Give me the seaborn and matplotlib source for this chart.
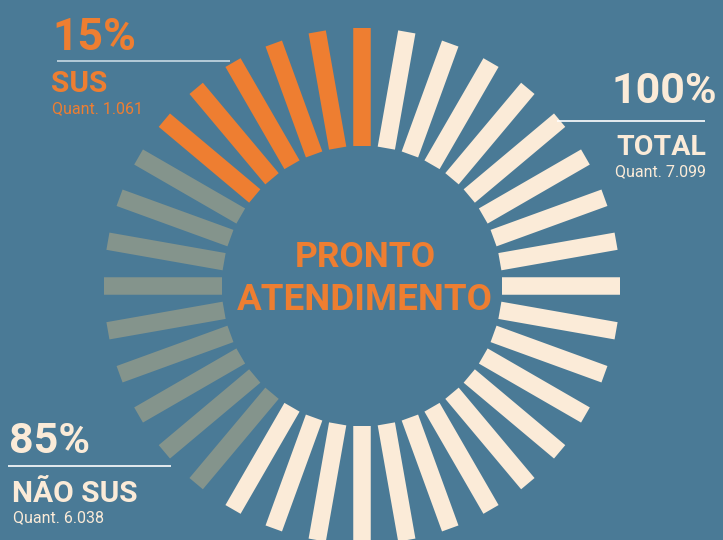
import numpy as np
import pandas as pd
import matplotlib
matplotlib.use("Agg")
import matplotlib.pyplot as plt
import seaborn as sns

# grupos de barras, contados a partir do topo no sentido anti-horario
grupos = ["SUS", "NÃO SUS", "RESTO"]
barras_por_grupo = [6, 9, 21]
cores = {"SUS": "#ee7e31", "NÃO SUS": "#84948c", "RESTO": "#fbebd8"}

percentuais = ["15%", "85%", "100%"]
nomes = ["SUS", "NÃO SUS", "TOTAL"]
quantidades = ["Quant. 1.061", "Quant. 6.038", "Quant. 7.099"]
titulo = ["PRONTO", "ATENDIMENTO"]

BG = "#4a7a96"
ORANGE = "#ee7e31"
CREAM = "#fbebd8"

sns.set_style("white")
plt.rcParams["font.family"] = ["Roboto", "DejaVu Sans"]
plt.rcParams["lines.solid_capstyle"] = "butt"

# geometria em pixels
cx, cy = 362, 286
r_in, r_out = 140, 258
n_total = sum(barras_por_grupo)
passo = 360 / n_total

rows = []
k = 0
for g, n in zip(grupos, barras_por_grupo):
    for i in range(n):
        th = np.deg2rad(-k * passo)
        for r in (r_in, r_out):
            rows.append({"bar": k, "grupo": g,
                         "x": cx + r * np.sin(th), "y": cy - r * np.cos(th)})
        k += 1
df = pd.DataFrame(rows)

fig = plt.figure(figsize=(7.23, 5.40), dpi=100, facecolor=BG)
ax = fig.add_axes([0, 0, 1, 1])
ax.set_facecolor(BG)

sns.lineplot(data=df, x="x", y="y", units="bar", hue="grupo", palette=cores,
             estimator=None, sort=False, linewidth=12.6, legend=False, ax=ax)

ax.set_xlim(0, 723)
ax.set_ylim(540, 0)
ax.set_axis_off()

# titulo central
ax.text(365, 267, titulo[0], color=ORANGE, fontsize=25.5, fontweight="bold",
        ha="center", va="baseline")
ax.text(365, 310, titulo[1], color=ORANGE, fontsize=26.5, fontweight="bold",
        ha="center", va="baseline")

# SUS (canto superior esquerdo)
ax.text(52, 50, percentuais[0], color=ORANGE, fontsize=32, fontweight="bold", va="baseline")
ax.plot([57, 230], [61, 61], color="#c7d9e3", lw=1.2)
ax.text(51, 92, nomes[0], color=ORANGE, fontsize=21.5, fontweight="bold", va="baseline")
ax.text(52, 113.5, quantidades[0], color=ORANGE, fontsize=11.5, va="baseline")

# TOTAL (direita)
ax.text(717, 103, percentuais[2], color=CREAM, fontsize=31, fontweight="bold",
        ha="right", va="baseline")
ax.plot([557, 705], [121, 121], color="white", lw=1.2)
ax.text(706, 155, nomes[2], color=CREAM, fontsize=20.5, fontweight="bold",
        ha="right", va="baseline")
ax.text(706, 176, quantidades[2], color=CREAM, fontsize=11.5, ha="right", va="baseline")

# NAO SUS (canto inferior esquerdo)
ax.text(9, 453, percentuais[1], color=CREAM, fontsize=31, fontweight="bold", va="baseline")
ax.plot([8, 171], [466, 466], color="white", lw=1.2)
ax.text(12, 502, nomes[1], color=CREAM, fontsize=21.5, fontweight="bold", va="baseline")
ax.text(13, 522.5, quantidades[1], color=CREAM, fontsize=11.5, va="baseline")

fig.savefig("out.png", dpi=100, facecolor=BG)
